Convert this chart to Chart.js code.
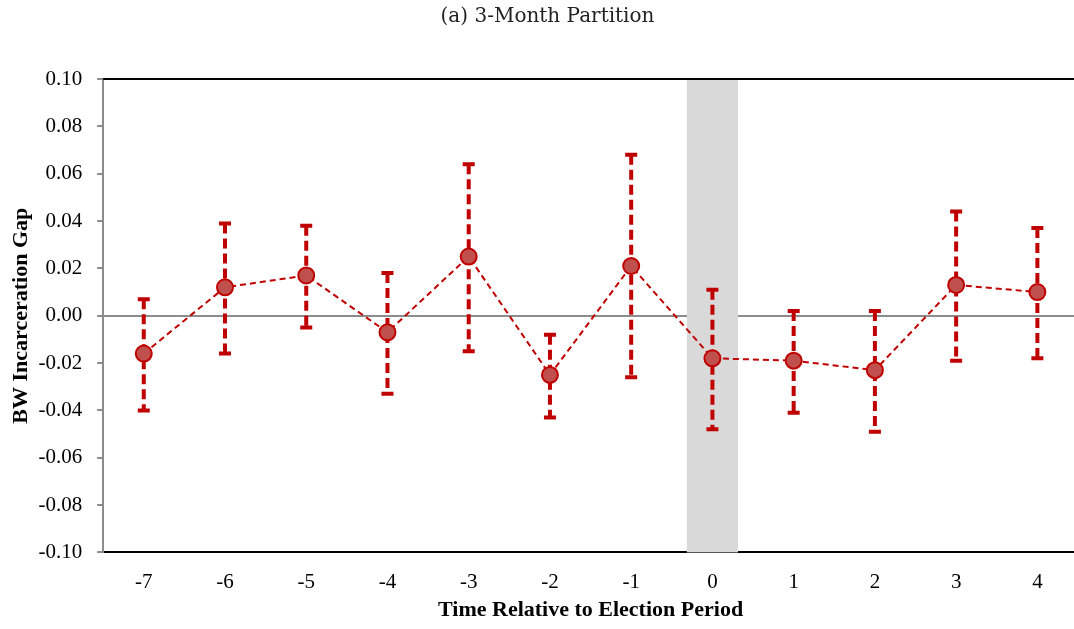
<!DOCTYPE html>
<html>
<head>
<meta charset="utf-8">
<script src="https://cdn.jsdelivr.net/npm/chart.js@4.4.0/dist/chart.umd.min.js"></script>
<style>
  html, body { margin: 0; padding: 0; background: #fff; overflow: hidden; }
  canvas { display: block; }
</style>
</head>
<body>
<canvas id="gapChart" width="1088" height="629"></canvas>
<script>
// values
const periods = ['-7', '-6', '-5', '-4', '-3', '-2', '-1', '0', '1', '2', '3', '4'];
const gap = [-0.016, 0.012, 0.017, -0.007, 0.025, -0.025, 0.021, -0.018, -0.019, -0.023, 0.013, 0.010];
const upper = [0.007, 0.039, 0.038, 0.018, 0.064, -0.008, 0.068, 0.011, 0.002, 0.002, 0.044, 0.037];
const lower = [-0.040, -0.016, -0.005, -0.033, -0.015, -0.043, -0.026, -0.048, -0.041, -0.049, -0.019, -0.018];
const electionPeriod = '0';

const red = '#c00000';
const serif = '"Liberation Serif", "Times New Roman", serif';

// grey band behind the election period + error bars
const extras = {
    id: 'extras',
    beforeDatasetsDraw(chart) {
        const { ctx, chartArea, scales } = chart;
        const x = scales.x, y = scales.y;
        const step = x.getPixelForValue(1) - x.getPixelForValue(0);

        ctx.save();
        const cx = x.getPixelForValue(periods.indexOf(electionPeriod));
        const bw = step * 0.63;
        ctx.fillStyle = '#d9d9d9';
        ctx.fillRect(cx - bw / 2, chartArea.top, bw, chartArea.bottom - chartArea.top);

        // top frame line
        ctx.strokeStyle = '#000';
        ctx.lineWidth = 2;
        ctx.beginPath();
        ctx.moveTo(chartArea.left, chartArea.top);
        ctx.lineTo(chartArea.right, chartArea.top);
        ctx.stroke();

        ctx.strokeStyle = red;
        for (let i = 0; i < periods.length; i++) {
            const px = x.getPixelForValue(i);
            const yt = y.getPixelForValue(upper[i]);
            const yb = y.getPixelForValue(lower[i]);
            ctx.lineWidth = 4;
            ctx.setLineDash([10, 5]);
            ctx.beginPath();
            ctx.moveTo(px, yt);
            ctx.lineTo(px, yb);
            ctx.stroke();
            ctx.setLineDash([]);
            ctx.beginPath();
            ctx.moveTo(px - 6, yt);
            ctx.lineTo(px + 6, yt);
            ctx.moveTo(px - 6, yb);
            ctx.lineTo(px + 6, yb);
            ctx.stroke();
        }
        ctx.restore();
    }
};

new Chart(document.getElementById('gapChart'), {
    type: 'line',
    data: {
        labels: periods,
        datasets: [{
            data: gap,
            borderColor: red,
            borderWidth: 2,
            borderDash: [6, 4],
            pointRadius: 8,
            pointHoverRadius: 8,
            pointBackgroundColor: '#c0504d',
            pointBorderColor: red,
            pointBorderWidth: 2,
            tension: 0
        }]
    },
    options: {
        responsive: false,
        animation: false,
        layout: { padding: { left: 8, right: 1, top: 0, bottom: 5 } },
        plugins: {
            legend: { display: false },
            tooltip: { enabled: false },
            title: {
                display: true,
                text: '(a) 3-Month Partition',
                color: '#222',
                font: { family: '"DejaVu Serif", serif', size: 20, weight: 'normal' },
                padding: { top: 5, bottom: 50 }
            }
        },
        scales: {
            x: {
                offset: true,
                grid: { display: false, drawTicks: false },
                border: { color: '#000', width: 2 },
                ticks: { color: '#000', font: { family: serif, size: 21 }, padding: 17 },
                title: {
                    display: true,
                    text: 'Time Relative to Election Period',
                    color: '#000',
                    font: { family: serif, size: 22, weight: 'bold' },
                    padding: { top: -14, bottom: 0 }
                }
            },
            y: {
                min: -0.1,
                max: 0.1,
                grid: {
                    color: c => (c.tick && c.tick.value === 0 ? '#8c8c8c' : 'transparent'),
                    lineWidth: 2,
                    tickColor: '#8c8c8c',
                    tickLength: 6
                },
                border: { color: '#8c8c8c', width: 2 },
                ticks: {
                    stepSize: 0.02,
                    color: '#000',
                    font: { family: serif, size: 21 },
                    padding: 15,
                    callback: v => v.toFixed(2)
                },
                title: {
                    display: true,
                    text: 'BW Incarceration Gap',
                    color: '#000',
                    font: { family: serif, size: 22, weight: 'bold' },
                    padding: { top: 0, bottom: -11 }
                }
            }
        }
    },
    plugins: [extras]
});
</script>
</body>
</html>
